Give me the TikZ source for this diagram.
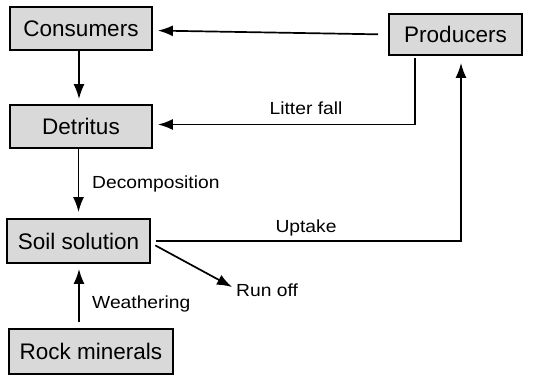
\documentclass[tikz,border=0pt]{standalone}
\usepackage{fontspec}
\setmainfont{Liberation Sans}
\newfontfamily\lblfont[FakeStretch=1.1]{Liberation Sans}
\usetikzlibrary{arrows.meta}
\definecolor{boxgray}{RGB}{217,217,217}
\tikzset{
  box/.style={draw=black, line width=1.8pt, fill=boxgray, inner sep=0pt,
    font=\fontsize{22.5}{26}\selectfont},
  arr/.style={line width=1.7pt, -{Latex[length=15pt,width=11pt]}},
  lbl/.style={inner sep=0pt, font=\lblfont\fontsize{17.5}{20}\selectfont}
}
\begin{document}
\begin{tikzpicture}[x=1pt,y=-1pt]
\useasboundingbox (0,0) rectangle (535,376);
\node[box, minimum width=142pt, minimum height=43pt] (cons) at (81,28.5) {Consumers};
\node[box, minimum width=133pt, minimum height=41pt] (prod) at (455.5,34.5) {Producers};
\node[box, minimum width=142pt, minimum height=43pt] (detr) at (81,126.5) {Detritus};
\node[box, minimum width=143pt, minimum height=44pt] (soil) at (78.5,241) {Soil solution};
\node[box, minimum width=164pt, minimum height=45pt] (rock) at (91,351.5) {Rock minerals};

\node[lbl] (litter) at (306,108) {Litter fall};
\node[lbl, anchor=west] (decomp) at (92,184) {Decomposition};
\node[lbl] (uptake) at (306,228) {Uptake};
\node[lbl, anchor=west] (runoff) at (236,290) {Run off};
\node[lbl, anchor=west] (weath) at (92,304) {Weathering};
\coordinate (ro) at (232,287);

\draw[arr, shorten <=10pt, shorten >=5pt] (prod.west) -- ([yshift=-2pt]cons.east);
\draw[arr, shorten >=5pt] ([xshift=-2pt]cons.south) -- ([xshift=-2pt]detr.north);
\draw[arr, shorten <=2pt, shorten >=5pt] ([xshift=-40.5pt]prod.south) |- ([yshift=2pt]detr.east);
\draw[arr, shorten >=6pt] ([xshift=-2.5pt]detr.south) -- (soil.north);
\draw[arr, shorten <=5pt, shorten >=7pt] (soil.east) -| ([xshift=5.5pt]prod.south);
\draw[arr, shorten <=5pt] ([yshift=-2pt]soil.east) -- (ro);
\draw[arr, shorten <=6pt, shorten >=5pt] ([xshift=-12pt]rock.north) -- ([xshift=0.5pt]soil.south);
\end{tikzpicture}
\end{document}
